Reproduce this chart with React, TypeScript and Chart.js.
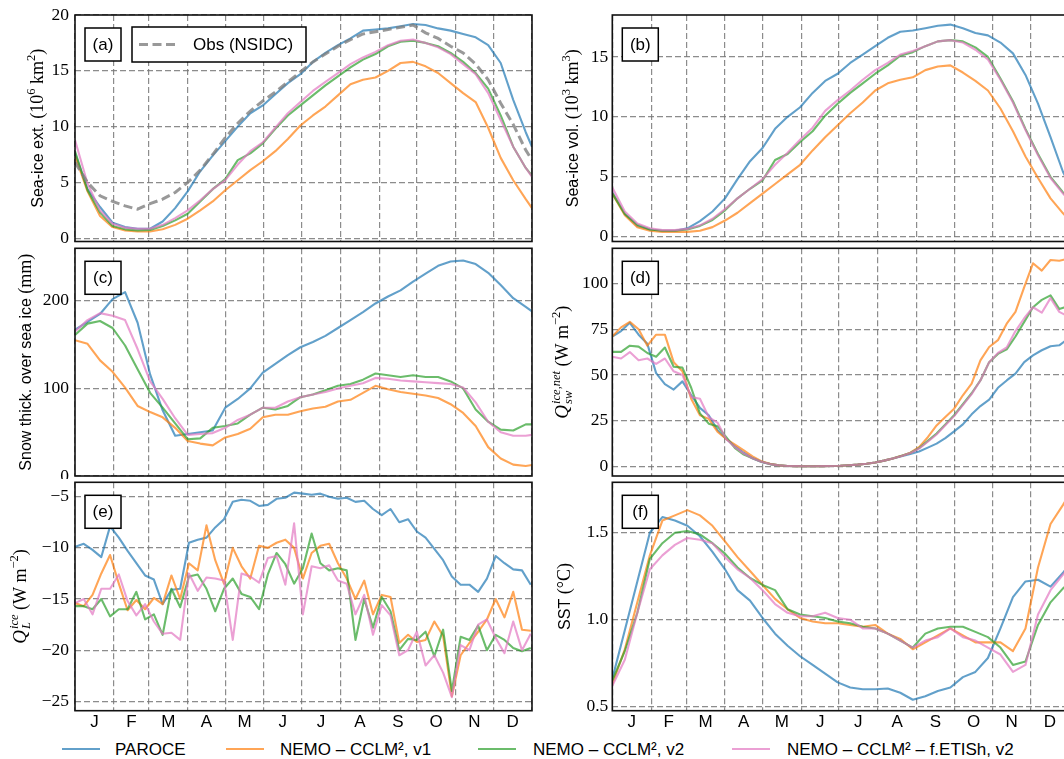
import React, { useEffect, useRef } from 'react';
import { Chart, registerables } from 'chart.js';

Chart.register(...registerables);

// ---------- x positions (day of year) ----------
const days10 = [0, 10, 20, 30, 40, 50, 60, 70, 80, 90, 100, 110, 120, 130, 140, 150, 160, 170, 180, 190, 200, 210, 220, 230, 240, 250, 260, 270, 280, 290, 300, 310, 320, 330, 340, 350, 360, 365];
const daysWeekly = [0, 7, 14, 21, 28, 35, 42, 49, 56, 63, 70, 77, 84, 91, 98, 105, 112, 119, 126, 133, 140, 147, 154, 161, 168, 175, 182, 189, 196, 203, 210, 217, 224, 231, 238, 245, 252, 259, 266, 273, 280, 287, 294, 301, 308, 315, 322, 329, 336, 343, 350, 357, 364];
const monthStarts = [0, 31, 59, 90, 120, 151, 181, 212, 243, 273, 304, 334, 365];
const monthMids = [15.5, 45, 74.5, 105, 135.5, 166, 196.5, 227.5, 258, 288.5, 319, 349.5];
const monthLabels = ['J', 'F', 'M', 'A', 'M', 'J', 'J', 'A', 'S', 'O', 'N', 'D'];

// ---------- series ----------
const seriesNames = ['PAROCE', 'NEMO – CCLM², v1', 'NEMO – CCLM², v2', 'NEMO – CCLM² – f.ETISh, v2'];
const seriesColors = ['rgba(31,119,180,0.7)', 'rgba(255,127,14,0.7)', 'rgba(44,160,44,0.7)', 'rgba(227,119,194,0.7)'];
const obsName = 'Obs (NSIDC)';

// (a) sea-ice extent (10^6 km^2)
const aObs = [6.8, 5.0, 3.8, 3.3, 2.9, 2.6, 3.1, 3.5, 4.1, 5.0, 6.1, 7.5, 9.0, 10.3, 11.4, 12.3, 13.1, 14.0, 14.9, 15.8, 16.5, 17.2, 17.8, 18.3, 18.5, 18.7, 18.9, 19.1, 18.4, 17.9, 17.2, 16.6, 15.6, 14.2, 12.1, 10.2, 7.9, 7.0];
const aBlue = [7.6, 4.4, 2.8, 1.4, 1.0, 0.85, 0.85, 1.5, 2.7, 4.2, 6.0, 7.4, 8.7, 10.0, 11.2, 11.9, 12.9, 13.9, 14.7, 15.8, 16.6, 17.3, 17.9, 18.6, 18.7, 18.8, 19.0, 19.2, 19.1, 18.8, 18.6, 18.3, 18.0, 17.3, 15.7, 12.4, 9.5, 8.2];
const aOrange = [7.4, 4.2, 2.0, 1.0, 0.7, 0.6, 0.6, 0.8, 1.2, 1.75, 2.5, 3.3, 4.3, 5.2, 6.1, 6.9, 7.8, 8.9, 10.1, 11.0, 11.8, 12.8, 13.8, 14.2, 14.4, 15.0, 15.7, 15.8, 15.4, 14.8, 13.9, 13.0, 12.2, 9.9, 7.2, 5.2, 3.5, 2.7];
const aGreen = [7.8, 4.3, 2.3, 1.1, 0.8, 0.7, 0.75, 1.1, 1.6, 2.2, 3.3, 4.4, 5.3, 7.0, 7.6, 8.5, 9.8, 11.0, 11.9, 12.8, 13.7, 14.5, 15.3, 16.0, 16.5, 17.2, 17.6, 17.7, 17.5, 17.2, 16.6, 15.8, 14.8, 13.4, 11.0, 8.2, 6.3, 5.6];
const aPink = [8.8, 4.9, 2.5, 1.3, 0.95, 0.85, 0.85, 1.2, 1.8, 2.5, 3.4, 4.4, 5.2, 6.6, 7.8, 8.6, 9.9, 11.2, 12.2, 13.2, 14.0, 14.8, 15.6, 16.2, 16.7, 17.3, 17.7, 17.8, 17.5, 17.1, 16.5, 15.6, 14.7, 13.0, 10.6, 8.2, 6.3, 5.5];

// (b) sea-ice volume (10^3 km^3)
const bBlue = [3.7, 1.9, 0.9, 0.6, 0.5, 0.5, 0.7, 1.3, 2.1, 3.2, 4.8, 6.3, 7.4, 9.0, 10.0, 10.8, 12.0, 13.0, 13.6, 14.5, 15.2, 15.9, 16.6, 17.1, 17.2, 17.4, 17.6, 17.7, 17.4, 17.0, 16.8, 16.2, 15.3, 13.5, 11.1, 8.3, 5.4, 4.4];
const bOrange = [3.6, 1.8, 0.8, 0.5, 0.4, 0.4, 0.4, 0.5, 0.8, 1.35, 2.0, 2.8, 3.6, 4.4, 5.2, 6.0, 7.2, 8.3, 9.3, 10.3, 11.2, 12.2, 12.8, 13.1, 13.3, 13.9, 14.2, 14.3, 13.7, 13.0, 12.2, 10.7, 8.8, 6.7, 4.9, 3.2, 1.95, 1.4];
const bGreen = [3.6, 1.9, 1.0, 0.6, 0.5, 0.5, 0.6, 0.9, 1.4, 2.2, 3.2, 4.0, 4.7, 6.4, 6.9, 7.9, 8.8, 10.1, 11.1, 12.0, 12.8, 13.6, 14.3, 15.1, 15.4, 15.9, 16.3, 16.4, 16.3, 15.8, 15.0, 13.2, 11.3, 9.0, 6.9, 5.0, 3.7, 3.1];
const bPink = [4.1, 2.1, 1.1, 0.7, 0.55, 0.55, 0.65, 0.95, 1.5, 2.3, 3.2, 4.0, 4.8, 6.0, 7.0, 8.1, 9.1, 10.5, 11.4, 12.2, 13.1, 13.9, 14.5, 15.2, 15.5, 15.9, 16.3, 16.4, 16.2, 15.6, 14.8, 13.1, 11.2, 8.9, 6.8, 4.9, 3.6, 3.0];

// (c) snow thickness over sea ice (mm)
const cBlue = [167, 176, 185, 202, 210, 175, 116, 75, 46, 48, 50, 52, 78, 88, 100, 118, 128, 138, 147, 153, 160, 169, 178, 187, 197, 205, 212, 222, 231, 240, 245, 246, 242, 232, 218, 203, 193, 188];
const cOrange = [155, 151, 132, 119, 101, 80, 73, 67, 55, 40, 37, 35, 44, 48, 54, 67, 70, 70, 74, 77, 79, 85, 87, 95, 103, 99, 96, 94, 92, 89, 82, 72, 57, 33, 20, 13, 11.5, 12.5];
const cGreen = [161, 174, 177, 169, 149, 122, 95, 78, 60, 42, 43, 55, 57, 60, 70, 78, 76, 80, 90, 93, 98, 103, 105, 110, 117, 115, 113, 115, 113, 113, 108, 100, 76, 62, 53, 52, 59, 59];
const cPink = [165, 178, 186, 183, 178, 145, 108, 88, 66, 47, 48, 49, 55, 64, 70, 78, 78, 85, 90, 93, 96, 100, 103, 106, 112, 111, 109, 108, 107, 106, 105, 101, 84, 62, 50, 46, 46, 47];

// (d) net shortwave over ice (W m^-2), weekly
const dBlue = [71, 74, 78.5, 72, 67, 51, 45, 42, 46.5, 39, 32, 28, 20, 15, 11, 7.5, 4.5, 2.5, 1.3, 0.6, 0.3, 0.2, 0.15, 0.15, 0.2, 0.3, 0.4, 0.7, 1.0, 1.5, 2.2, 3.2, 4.4, 5.6, 6.8, 8.2, 10.3, 12.5, 15.5, 19.2, 23, 28.5, 33, 36.5, 43, 47, 50.7, 57, 60.7, 63.5, 65.7, 66.2, 69.8];
const dOrange = [71, 76, 79, 75, 66, 72, 72, 57, 52, 37, 28, 26, 19, 15, 12, 8.8, 5.5, 2.9, 1.5, 0.6, 0.3, 0.2, 0.15, 0.15, 0.2, 0.3, 0.4, 0.7, 1.0, 1.5, 2.2, 3.2, 4.4, 5.8, 7.5, 10.6, 16, 22.4, 27, 31.6, 38.9, 45.3, 58, 65.3, 69, 78, 84.5, 98, 111, 107, 112.8, 112.4, 113.5];
const dGreen = [62.6, 62.6, 66, 65.5, 62, 60, 65, 54.5, 54, 43, 29, 23.4, 22, 16, 10, 6.5, 4.5, 2.6, 1.3, 0.6, 0.3, 0.2, 0.15, 0.15, 0.2, 0.3, 0.4, 0.7, 1.0, 1.5, 2.2, 3.2, 4.4, 5.8, 7.4, 10, 14, 18, 23, 28, 34, 40, 47, 57, 61.5, 64, 71, 79, 87, 91, 93.5, 86, 87.5];
const dPink = [60, 59, 62.5, 58, 59, 56, 59, 52, 50, 38, 37, 27, 24, 15, 10.5, 7, 4.5, 2.6, 1.3, 0.6, 0.3, 0.2, 0.15, 0.15, 0.2, 0.3, 0.4, 0.7, 1.0, 1.5, 2.2, 3.2, 4.4, 5.7, 7.3, 9.8, 13.5, 17.5, 22.5, 27.5, 33.5, 39.5, 47, 57, 62, 65, 74, 81, 87, 84, 92, 84.5, 82];

// (e) latent heat over ice (W m^-2), weekly
const eBlue = [-9.9, -9.6, -10.2, -10.9, -7.9, -9.0, -10.3, -11.5, -12.7, -13.1, -15.5, -14.1, -14.0, -9.5, -9.2, -9.0, -8.0, -7.2, -5.5, -5.3, -5.4, -5.9, -5.8, -5.2, -5.1, -4.6, -4.7, -4.8, -4.7, -5.0, -5.2, -5.1, -5.5, -5.4, -6.2, -6.8, -6.2, -7.5, -7.2, -8.4, -9.0, -10.1, -11.2, -12.8, -13.6, -13.6, -14.3, -13.0, -10.8, -11.5, -12.1, -12.2, -13.6];
const eOrange = [-15.4, -15.7, -14.6, -12.5, -10.7, -13.5, -16.1, -15.1, -16.0, -14.9, -15.5, -12.7, -15.0, -11.5, -12.2, -7.8, -11.2, -13.5, -10.0, -11.8, -13.0, -9.8, -10.0, -9.5, -9.2, -10.0, -13.0, -10.5, -9.8, -9.6, -11.5, -13.0, -15.0, -13.2, -16.5, -14.6, -14.8, -19.3, -18.5, -19.2, -19.0, -17.2, -18.6, -24.5, -20.5, -19.3, -18.2, -17.0, -15.0, -16.8, -14.3, -18.0, -18.1];
const eGreen = [-15.7, -15.7, -16.0, -15.0, -16.7, -16.0, -16.0, -14.3, -17.0, -16.5, -18.5, -14.0, -15.8, -12.8, -12.6, -14.0, -16.2, -14.0, -13.0, -14.5, -14.8, -16.0, -12.6, -10.5, -11.6, -13.5, -12.0, -8.6, -11.5, -12.2, -12.0, -12.2, -19.0, -15.0, -17.8, -14.8, -16.2, -20.0, -18.9, -19.0, -18.2, -20.6, -18.0, -24.0, -18.7, -19.0, -17.6, -20.0, -18.5, -19.0, -19.8, -20.1, -19.8];
const ePink = [-15.4, -15.0, -16.5, -14.0, -14.0, -12.6, -15.2, -16.6, -15.5, -17.2, -18.4, -18.3, -19.0, -12.5, -14.2, -12.9, -13.0, -13.2, -19.0, -12.5, -12.8, -13.4, -11.0, -10.8, -13.6, -7.6, -16.5, -11.8, -12.0, -11.7, -13.2, -13.5, -16.5, -14.6, -18.5, -15.6, -16.6, -20.5, -20.0, -18.2, -21.5, -20.5, -22.2, -24.6, -19.5, -20.0, -17.5, -17.0, -18.8, -20.3, -17.2, -20.0, -18.4];

// (f) SST (°C)
const fBlue = [0.66, 0.94, 1.22, 1.50, 1.59, 1.57, 1.54, 1.48, 1.39, 1.29, 1.17, 1.11, 1.01, 0.92, 0.85, 0.79, 0.74, 0.69, 0.64, 0.61, 0.60, 0.60, 0.605, 0.58, 0.54, 0.56, 0.59, 0.61, 0.67, 0.70, 0.78, 0.95, 1.13, 1.22, 1.23, 1.19, 1.27, 1.32];
const fOrange = [0.63, 0.83, 1.10, 1.37, 1.57, 1.60, 1.63, 1.60, 1.54, 1.45, 1.36, 1.28, 1.20, 1.12, 1.06, 1.01, 0.99, 0.98, 0.98, 0.97, 0.96, 0.97, 0.92, 0.89, 0.83, 0.87, 0.91, 0.95, 0.91, 0.87, 0.87, 0.87, 0.82, 0.95, 1.30, 1.55, 1.66, 1.72];
const fGreen = [0.65, 0.82, 1.04, 1.35, 1.44, 1.50, 1.51, 1.49, 1.44, 1.38, 1.30, 1.24, 1.20, 1.17, 1.06, 1.03, 1.02, 1.01, 0.99, 0.98, 0.96, 0.95, 0.92, 0.88, 0.84, 0.92, 0.95, 0.96, 0.96, 0.93, 0.90, 0.84, 0.74, 0.76, 0.97, 1.10, 1.18, 1.21];
const fPink = [0.62, 0.77, 1.04, 1.29, 1.37, 1.43, 1.47, 1.46, 1.44, 1.36, 1.29, 1.24, 1.17, 1.09, 1.04, 1.02, 1.02, 1.04, 1.01, 1.00, 0.95, 0.95, 0.92, 0.88, 0.84, 0.88, 0.90, 0.95, 0.90, 0.88, 0.84, 0.80, 0.70, 0.74, 1.03, 1.17, 1.26, 1.30];

// ---------- styling ----------
const SANS = '"Liberation Sans", Arial, sans-serif';
const SERIF = '"Liberation Serif", "DejaVu Serif", "Times New Roman", serif';
const GRID = 'rgba(120,120,120,0.85)';

type Seg = { t?: string; sup?: string; sub?: string; size: number; serif?: boolean; italic?: boolean; dy?: number };
const S = (t: string): Seg => ({ t, size: 16 });
const R = (t: string): Seg => ({ t, size: 18, serif: true });
const SUP = (t: string): Seg => ({ t, size: 12.5, serif: true, dy: -7.5 });
const Q: Seg = { t: 'Q', size: 19, serif: true, italic: true };
const STACK = (sup: string, sub: string): Seg => ({ sup, sub, size: 12.5, serif: true, italic: true });

const cols = [
  { left: 0, width: 545, areaLeft: 75, areaRight: 532, tickPad: 6 },
  { left: 545, width: 535, areaLeft: 67.3, areaRight: 524.3, tickPad: 4 },
];
const rows = [
  { top: 0, height: 245, areaTop: 15, areaBottom: 241.5, xH: 0, months: false },
  { top: 245, height: 234, areaTop: 3.3, areaBottom: 231, xH: 0, months: false },
  { top: 479, height: 250, areaTop: 3.3, areaBottom: 231.7, xH: 18.3, months: true },
];

const panels: any[] = [
  { key: 'a', col: 0, row: 0, label: '(a)', days: days10, series: [aBlue, aOrange, aGreen, aPink], obs: aObs, yMin: -0.29, yMax: 20, yTicks: [0, 5, 10, 15, 20], dec: 0, titleX: 36.9, title: [S('Sea-ice ext. '), R('(10'), SUP('6'), R(' km'), SUP('2'), R(')')] },
  { key: 'b', col: 1, row: 0, label: '(b)', days: days10, series: [bBlue, bOrange, bGreen, bPink], yMin: -0.4, yMax: 18.5, yTicks: [0, 5, 10, 15], dec: 0, titleX: 27, title: [S('Sea-ice vol. '), R('(10'), SUP('3'), R(' km'), SUP('3'), R(')')] },
  { key: 'c', col: 0, row: 1, label: '(c)', days: days10, series: [cBlue, cOrange, cGreen, cPink], yMin: 0, yMax: 260, yTicks: [0, 100, 200], dec: 0, titleX: 25.3, title: [S('Snow thick. over sea ice '), R('(mm)')] },
  { key: 'd', col: 1, row: 1, label: '(d)', days: daysWeekly, series: [dBlue, dOrange, dGreen, dPink], yMin: -5.2, yMax: 119.2, yTicks: [0, 25, 50, 75, 100], dec: 0, titleX: 17, title: [Q, STACK('ice,net', 'sw'), R(' (W m'), SUP('−2'), R(')')] },
  { key: 'e', col: 0, row: 2, label: '(e)', days: daysWeekly, series: [eBlue, eOrange, eGreen, ePink], yMin: -25.92, yMax: -3.59, yTicks: [-25, -20, -15, -10, -5], dec: 0, titleX: 20, title: [Q, STACK('ice', 'L'), R(' (W m'), SUP('−2'), R(')')] },
  { key: 'f', col: 1, row: 2, label: '(f)', days: days10, series: [fBlue, fOrange, fGreen, fPink], yMin: 0.477, yMax: 1.79, yTicks: [0.5, 1.0, 1.5], dec: 1, titleX: 19, title: [S('SST '), R('(°C)')] },
];

const legendPos = [
  { line: 62, text: 115 },
  { line: 226, text: 280 },
  { line: 478, text: 533 },
  { line: 732, text: 787 },
];

function segFont(s: Seg) {
  return `${s.italic ? 'italic ' : ''}${s.size}px ${s.serif ? SERIF : SANS}`;
}

function drawTitle(ctx: CanvasRenderingContext2D, cx: number, cy: number, segs: Seg[]) {
  ctx.save();
  ctx.translate(cx, cy);
  ctx.rotate(-Math.PI / 2);
  ctx.textAlign = 'left';
  ctx.textBaseline = 'alphabetic';
  ctx.fillStyle = '#000';
  const widths = segs.map((s) => {
    ctx.font = segFont(s);
    if (s.t !== undefined) return ctx.measureText(s.t).width;
    return Math.max(ctx.measureText(s.sup || '').width, ctx.measureText(s.sub || '').width) + 1;
  });
  const total = widths.reduce((a, b) => a + b, 0);
  let x = -total / 2;
  const base = 5.6;
  segs.forEach((s, i) => {
    ctx.font = segFont(s);
    if (s.t !== undefined) {
      ctx.fillText(s.t, x, base + (s.dy || 0));
    } else {
      ctx.fillText(s.sup || '', x + 1, base - 8);
      ctx.fillText(s.sub || '', x + 1, base + 4);
    }
    x += widths[i];
  });
  ctx.restore();
}

function buildChart(canvas: HTMLCanvasElement, p: any) {
  const col = cols[p.col];
  const row = rows[p.row];
  const xTicks = [...monthStarts, ...monthMids].sort((a, b) => a - b);
  const datasets: any[] = [];
  if (p.obs) {
    datasets.push({
      label: obsName,
      data: p.days.map((d: number, i: number) => ({ x: d, y: p.obs[i] })),
      borderColor: 'rgba(128,128,128,0.8)',
      borderWidth: 3,
      borderDash: [9, 4.5],
      pointRadius: 0,
      fill: false,
    });
  }
  for (let k = 3; k >= 0; k--) {
    datasets.push({
      label: seriesNames[k],
      data: p.days.map((d: number, i: number) => ({ x: d, y: p.series[k][i] })),
      borderColor: seriesColors[k],
      borderWidth: 2.1,
      pointRadius: 0,
      fill: false,
      borderJoinStyle: 'round',
    });
  }

  const decor = {
    id: 'decor' + p.key,
    afterDraw(chart: any) {
      const { ctx, chartArea: ca } = chart;
      ctx.save();
      ctx.setLineDash([]);
      ctx.strokeStyle = '#111';
      ctx.lineWidth = 1.6;
      ctx.strokeRect(ca.left, ca.top, ca.right - ca.left, ca.bottom - ca.top);
      // panel label
      const bx = ca.left + 10, by = ca.top + 13, bw = 36, bh = 33;
      ctx.fillStyle = '#fff';
      ctx.fillRect(bx, by, bw, bh);
      ctx.strokeStyle = '#000';
      ctx.lineWidth = 1.5;
      ctx.strokeRect(bx, by, bw, bh);
      ctx.fillStyle = '#000';
      ctx.font = `17px ${SANS}`;
      ctx.textAlign = 'center';
      ctx.textBaseline = 'middle';
      ctx.fillText(p.label, bx + bw / 2, by + bh / 2 + 1);
      // obs legend
      if (p.obs) {
        const lx = ca.left + 57, ly = ca.top + 12, lw = 174, lh = 35;
        ctx.fillStyle = '#fff';
        ctx.fillRect(lx, ly, lw, lh);
        ctx.strokeStyle = '#000';
        ctx.lineWidth = 1.5;
        ctx.strokeRect(lx, ly, lw, lh);
        ctx.strokeStyle = 'rgba(128,128,128,0.8)';
        ctx.lineWidth = 3;
        ctx.setLineDash([9, 4.5]);
        ctx.beginPath();
        ctx.moveTo(lx + 7, ly + lh / 2);
        ctx.lineTo(lx + 45, ly + lh / 2);
        ctx.stroke();
        ctx.setLineDash([]);
        ctx.fillStyle = '#000';
        ctx.textAlign = 'left';
        ctx.fillText(obsName, lx + 61, ly + lh / 2 + 1);
      }
      drawTitle(ctx, p.titleX, (ca.top + ca.bottom) / 2, p.title);
      ctx.restore();
    },
  };

  return new Chart(canvas, {
    type: 'line',
    data: { datasets },
    plugins: [decor],
    options: {
      animation: false,
      responsive: false,
      events: [],
      parsing: false,
      layout: {
        padding: {
          left: 0,
          right: col.width - col.areaRight,
          top: row.areaTop,
          bottom: row.height - row.areaBottom - row.xH,
        },
      },
      plugins: { legend: { display: false }, tooltip: { enabled: false } },
      scales: {
        x: {
          type: 'linear',
          min: 0,
          max: 365,
          afterBuildTicks: (s: any) => {
            s.ticks = xTicks.map((v) => ({ value: v }));
          },
          afterFit: (s: any) => {
            s.height = row.xH;
            s.paddingLeft = 0;
            s.paddingRight = 0;
          },
          grid: {
            drawTicks: false,
            lineWidth: 1.2,
            color: (c: any) => (c.tick && monthStarts.includes(c.tick.value) ? GRID : 'rgba(0,0,0,0)'),
          },
          border: { display: false, dash: [6, 3] },
          ticks: {
            display: row.months,
            autoSkip: false,
            maxRotation: 0,
            minRotation: 0,
            padding: 1,
            color: '#000',
            font: { family: SANS, size: 17 },
            callback: (v: any) => {
              const i = monthMids.indexOf(Number(v));
              return i >= 0 ? monthLabels[i] : '';
            },
          },
        },
        y: {
          type: 'linear',
          min: p.yMin,
          max: p.yMax,
          afterBuildTicks: (s: any) => {
            s.ticks = p.yTicks.map((v: number) => ({ value: v }));
          },
          afterFit: (s: any) => {
            s.width = col.areaLeft;
            s.paddingTop = 0;
            s.paddingBottom = 0;
          },
          grid: { drawTicks: false, lineWidth: 1.2, color: GRID },
          border: { display: false, dash: [6, 3] },
          ticks: {
            padding: col.tickPad,
            color: '#000',
            font: { family: SERIF, size: 17.5 },
            callback: (v: any) => {
              const n = Number(v);
              const s = Math.abs(n).toFixed(p.dec);
              return n < 0 ? '−' + s : s;
            },
          },
        },
      },
    } as any,
  });
}

export default function App() {
  const refs = useRef<(HTMLCanvasElement | null)[]>([]);

  useEffect(() => {
    const charts = panels.map((p, i) => buildChart(refs.current[i] as HTMLCanvasElement, p));
    return () => {
      charts.forEach((c) => c.destroy());
    };
  }, []);

  return (
    <div style={{ position: 'fixed', left: 0, top: 0, width: 1064, height: 759, overflow: 'hidden', background: '#fff' }}>
      {panels.map((p, i) => {
        const c = cols[p.col];
        const r = rows[p.row];
        return (
          <canvas
            key={p.key}
            ref={(el) => {
              refs.current[i] = el;
            }}
            width={c.width}
            height={r.height}
            style={{ position: 'absolute', left: c.left, top: r.top, width: c.width, height: r.height, display: 'block' }}
          />
        );
      })}
      {seriesNames.map((name, k) => (
        <React.Fragment key={name}>
          <div
            style={{
              position: 'absolute',
              left: legendPos[k].line,
              top: 748.2,
              width: 38,
              height: 0,
              borderTop: `2.6px solid ${seriesColors[k]}`,
            }}
          />
          <div
            style={{
              position: 'absolute',
              left: legendPos[k].text,
              top: 740,
              fontFamily: SANS,
              fontSize: 17,
              lineHeight: '20px',
              color: '#000',
              whiteSpace: 'nowrap',
            }}
          >
            {name}
          </div>
        </React.Fragment>
      ))}
    </div>
  );
}
